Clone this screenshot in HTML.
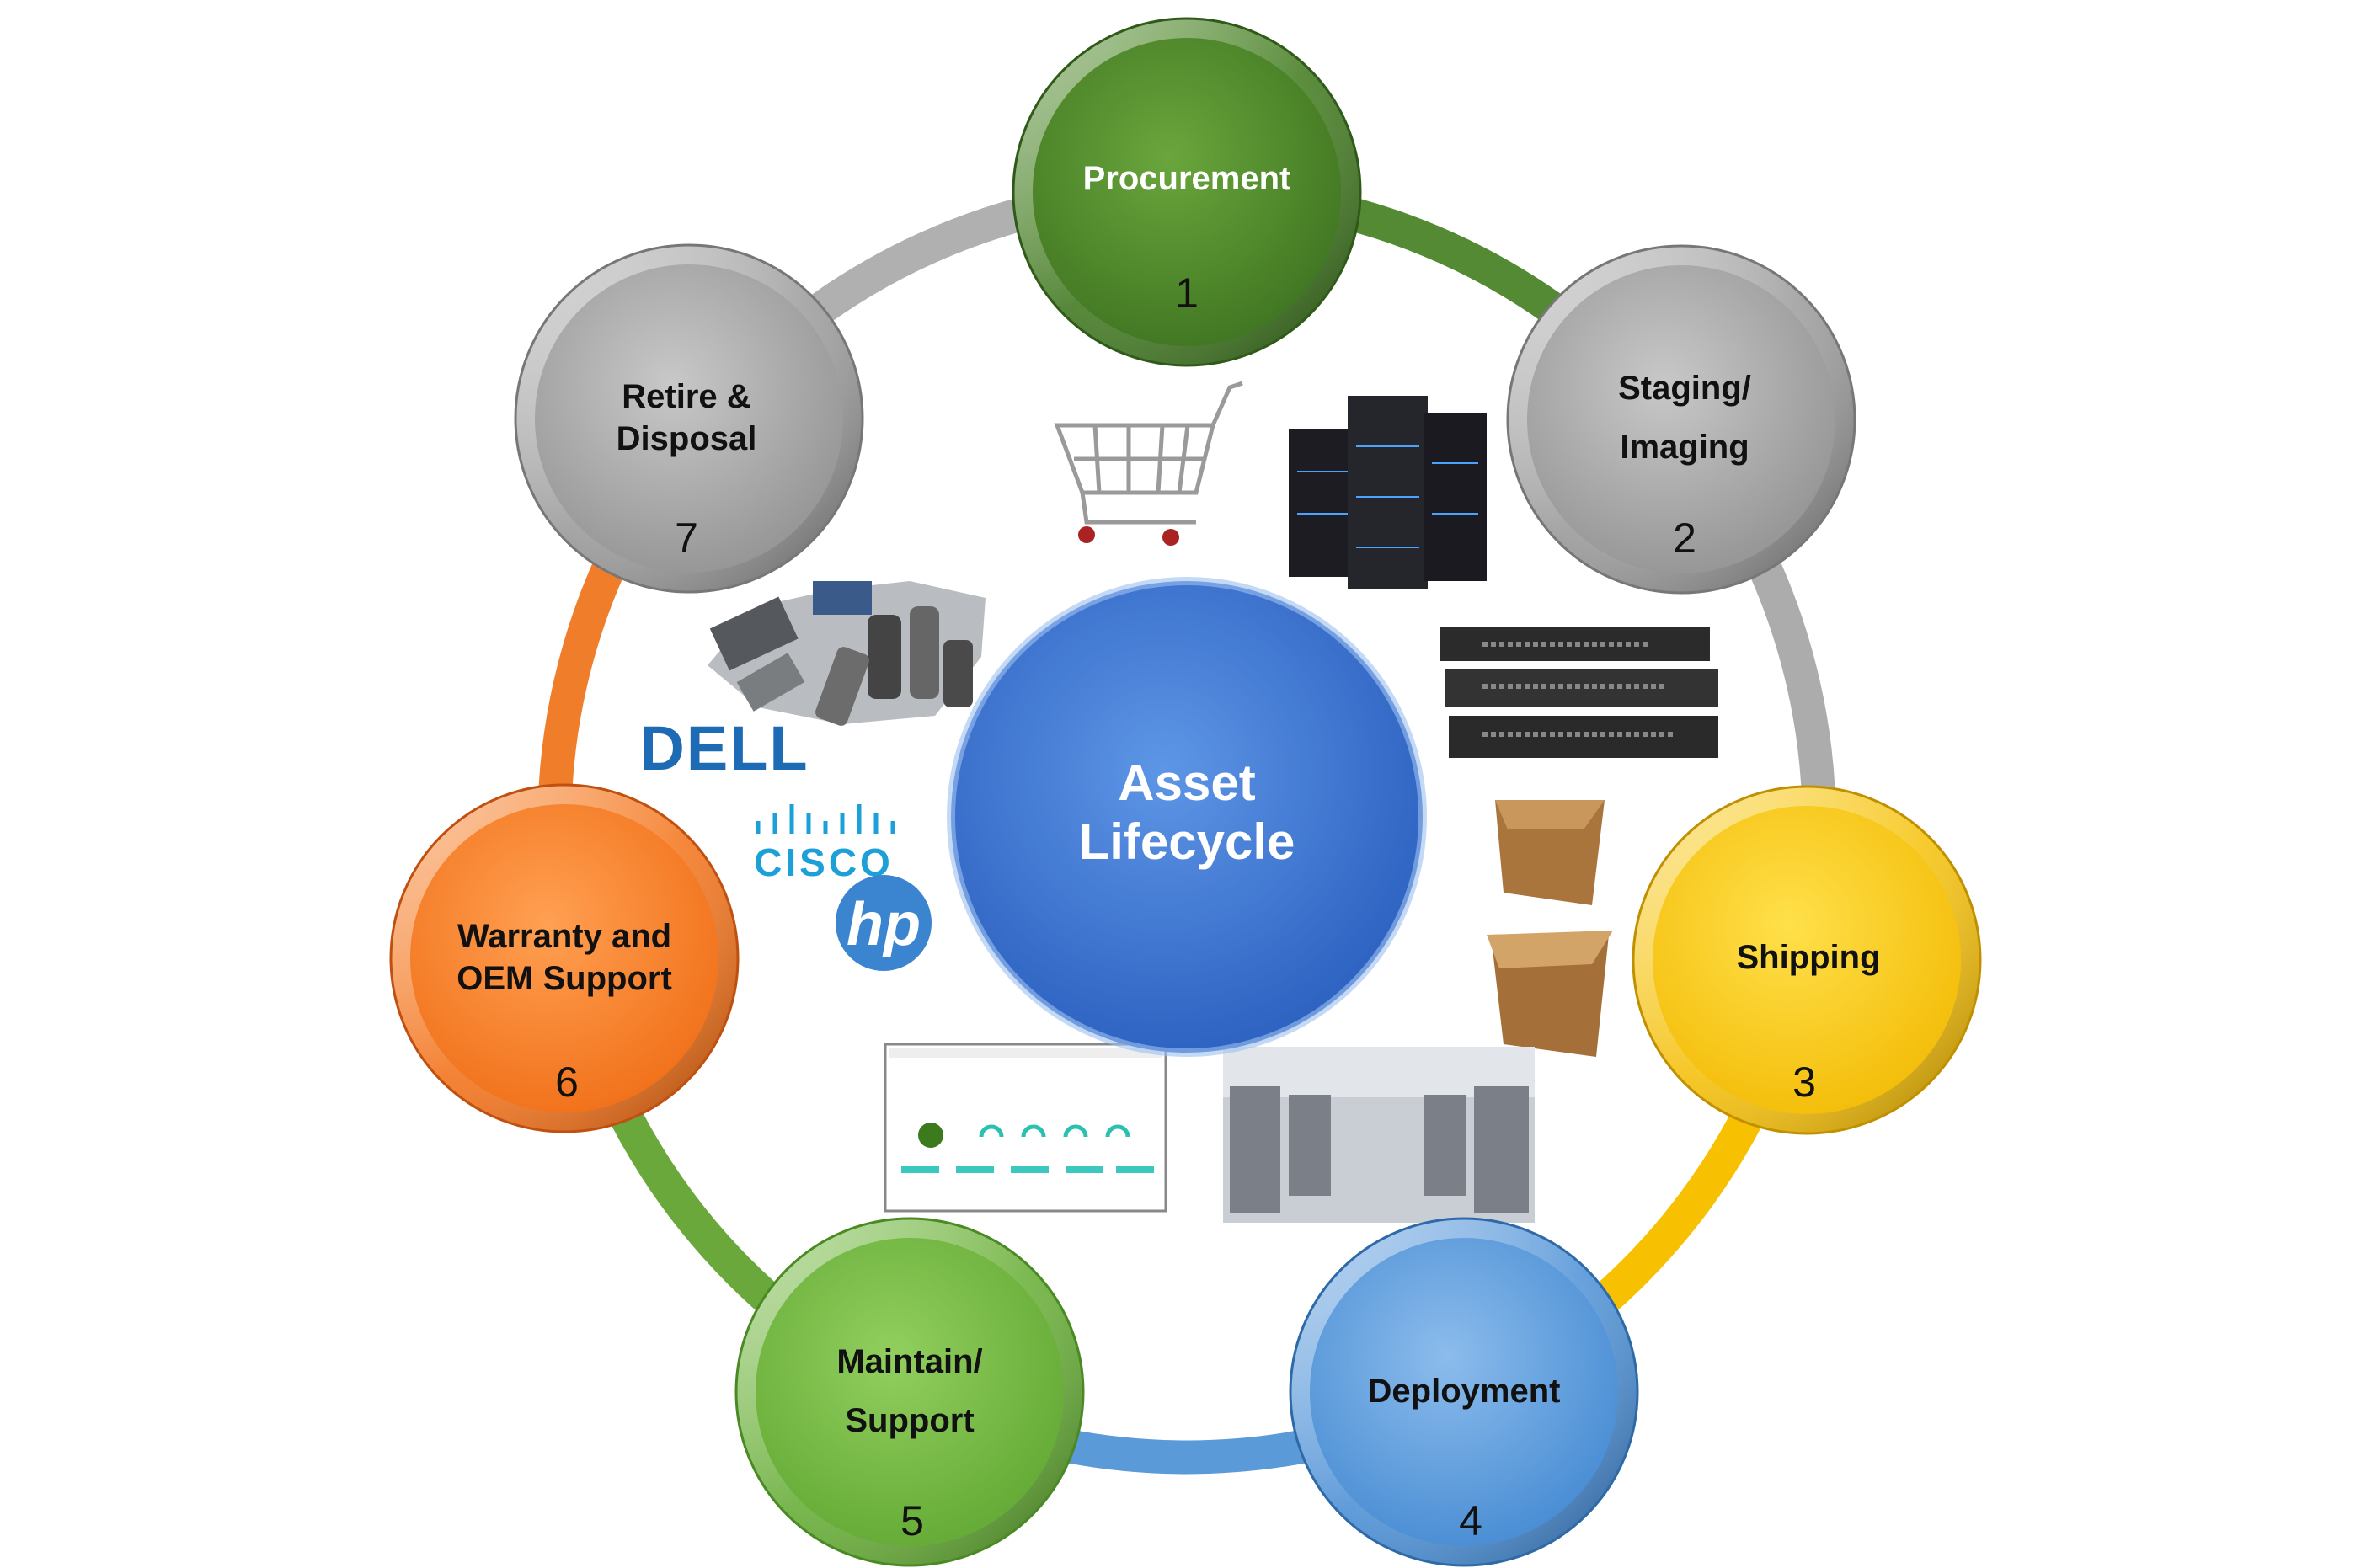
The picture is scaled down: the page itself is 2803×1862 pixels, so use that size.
<!DOCTYPE html>
<html><head><meta charset="utf-8"><style>
html,body{margin:0;padding:0;background:#fff;}
svg{display:block;}
text{font-family:"Liberation Sans","DejaVu Sans",sans-serif;}
</style></head><body>
<svg width="2803" height="1862" viewBox="0 0 2803 1862" xmlns="http://www.w3.org/2000/svg">
<defs>
<radialGradient id="gGreen" cx="45%" cy="40%" r="65%"><stop offset="0" stop-color="#6aa63c"/><stop offset="1" stop-color="#3a6f1e"/></radialGradient>
<radialGradient id="gGray" cx="45%" cy="40%" r="65%"><stop offset="0" stop-color="#c8c8c8"/><stop offset="1" stop-color="#8e8e8e"/></radialGradient>
<radialGradient id="gYellow" cx="45%" cy="40%" r="65%"><stop offset="0" stop-color="#ffe04a"/><stop offset="1" stop-color="#f2b800"/></radialGradient>
<radialGradient id="gBlue" cx="45%" cy="40%" r="65%"><stop offset="0" stop-color="#8cbcec"/><stop offset="1" stop-color="#3f86d0"/></radialGradient>
<radialGradient id="gLGreen" cx="45%" cy="40%" r="65%"><stop offset="0" stop-color="#92cf5e"/><stop offset="1" stop-color="#5ea530"/></radialGradient>
<radialGradient id="gOrange" cx="45%" cy="40%" r="65%"><stop offset="0" stop-color="#ffa052"/><stop offset="1" stop-color="#ef6a12"/></radialGradient>
<radialGradient id="gCenter" cx="45%" cy="40%" r="65%"><stop offset="0" stop-color="#5e96e6"/><stop offset="1" stop-color="#2a5fbf"/></radialGradient>
<linearGradient id="rim" x1="0" y1="0" x2="1" y2="1"><stop offset="0" stop-color="#fff" stop-opacity=".6"/><stop offset=".5" stop-color="#fff" stop-opacity=".1"/><stop offset="1" stop-color="#000" stop-opacity=".3"/></linearGradient>
</defs>
<g fill="none" stroke-width="40">
<path d="M1409 228 A751 751 0 0 1 1996 511" stroke="#548a33"/>
<path d="M1996 511 A751 751 0 0 1 2141 1146" stroke="#acacac"/>
<path d="M2141 1146 A751 751 0 0 1 1735 1656" stroke="#f7c000"/>
<path d="M1735 1656 A751 751 0 0 1 1083 1656" stroke="#5a9ad8"/>
<path d="M1083 1656 A751 751 0 0 1 677 1146" stroke="#6aa83c"/>
<path d="M677 1146 A751 751 0 0 1 822 511" stroke="#f07d2a"/>
<path d="M822 511 A751 751 0 0 1 1409 228" stroke="#b0b0b0"/>
</g>
<g>
<g stroke="#9a9a9a" stroke-width="5" fill="none">
<path d="M1255 505 L1440 505 L1420 585 L1285 585 Z"/>
<path d="M1440 505 L1460 460 L1475 455"/>
<path d="M1275 545 L1430 545 M1300 505 L1305 585 M1340 505 L1340 585 M1380 505 L1375 585 M1410 505 L1400 585"/>
<path d="M1285 585 L1290 620 L1420 620"/>
</g>
<circle cx="1290" cy="635" r="10" fill="#a22"/><circle cx="1390" cy="638" r="10" fill="#a22"/>
<rect x="1530" y="510" width="80" height="175" fill="#1c1c22"/>
<rect x="1600" y="470" width="95" height="230" fill="#25252c"/>
<rect x="1690" y="490" width="75" height="200" fill="#1a1a20"/>
<g stroke="#4aa3ff" stroke-width="2"><path d="M1540 560h60M1540 610h60M1610 530h75M1610 590h75M1610 650h75M1700 550h55M1700 610h55"/></g>
<rect x="1710" y="745" width="320" height="40" fill="#2b2b2b"/>
<rect x="1715" y="795" width="325" height="45" fill="#333"/>
<rect x="1720" y="850" width="320" height="50" fill="#2a2a2a"/>
<g stroke="#888" stroke-width="6" stroke-dasharray="6 4"><path d="M1760 765h200M1760 815h220M1760 872h230"/></g>
<path d="M1775 950 L1905 950 L1890 1075 L1785 1060 Z" fill="#a9753d"/>
<path d="M1775 950 L1905 950 L1880 985 L1790 985 Z" fill="#c9975b"/>
<path d="M1770 1110 L1910 1110 L1895 1255 L1785 1240 Z" fill="#a46f38"/>
<path d="M1765 1110 L1915 1105 L1890 1145 L1780 1150 Z" fill="#d3a468"/>
<rect x="1452" y="1243" width="370" height="209" fill="#c9ced4"/>
<rect x="1452" y="1243" width="370" height="60" fill="#e2e6ea"/>
<g fill="#7b8088"><rect x="1460" y="1290" width="60" height="150"/><rect x="1530" y="1300" width="50" height="120"/><rect x="1690" y="1300" width="50" height="120"/><rect x="1750" y="1290" width="65" height="150"/></g>
<rect x="1051" y="1240" width="333" height="198" fill="#fff" stroke="#888" stroke-width="3"/>
<rect x="1055" y="1244" width="325" height="12" fill="#eee"/>
<circle cx="1105" cy="1348" r="15" fill="#3c7a1e"/>
<g fill="none" stroke="#2cc0b0" stroke-width="5"><path d="M1165 1350a12 12 0 0 1 24 0M1215 1350a12 12 0 0 1 24 0M1265 1350a12 12 0 0 1 24 0M1315 1350a12 12 0 0 1 24 0"/></g>
<g fill="#3cc8c0"><rect x="1070" y="1385" width="45" height="8"/><rect x="1135" y="1385" width="45" height="8"/><rect x="1200" y="1385" width="45" height="8"/><rect x="1265" y="1385" width="45" height="8"/><rect x="1325" y="1385" width="45" height="8"/></g>
<!-- junk pile -->
<path d="M840 790 L900 720 L990 700 L1080 690 L1170 710 L1165 780 L1110 850 L1000 860 L900 840 Z" fill="#b9bcc0"/>
<rect x="850" y="725" width="90" height="55" fill="#55585c" transform="rotate(-25 895 752)"/>
<rect x="880" y="790" width="70" height="40" fill="#7a7d80" transform="rotate(-30 915 810)"/>
<rect x="965" y="690" width="70" height="40" fill="#3a5a8a"/>
<rect x="1030" y="730" width="40" height="100" fill="#444" rx="10"/>
<rect x="1080" y="720" width="35" height="110" fill="#666" rx="10"/>
<rect x="980" y="770" width="40" height="90" fill="#6c6c6c" rx="8" transform="rotate(20 1000 815)"/>
<rect x="1120" y="760" width="35" height="80" fill="#4a4a4a" rx="8"/>
<text x="860" y="914" font-size="74" font-weight="bold" fill="#1d6bb5" text-anchor="middle" letter-spacing="2">DELL</text>
<g stroke="#1ba0d7" stroke-width="5"><path d="M900 990v-15M920 990v-25M940 990v-35M960 990v-25M980 990v-15M1000 990v-25M1020 990v-35M1040 990v-25M1060 990v-15"/></g>
<text x="978" y="1040" font-size="46" font-weight="bold" fill="#1ba0d7" text-anchor="middle" letter-spacing="4">CISCO</text>
<circle cx="1049" cy="1096" r="57" fill="#3a84d0"/>
<text x="1049" y="1122" font-size="72" font-style="italic" font-weight="bold" fill="#fff" text-anchor="middle">hp</text>
</g>
<circle cx="1409" cy="970" r="280" fill="url(#gCenter)"/>
<circle cx="1409" cy="970" r="280" fill="none" stroke="#9cc0f0" stroke-width="10" opacity=".6"/>
<text x="1409" y="950" font-size="60" font-weight="bold" fill="#fff" text-anchor="middle">Asset</text>
<text x="1409" y="1020" font-size="60" font-weight="bold" fill="#fff" text-anchor="middle">Lifecycle</text>
<g>
<circle cx="1409" cy="228" r="207" fill="url(#gGreen)"/><circle cx="1409" cy="228" r="195" fill="none" stroke="url(#rim)" stroke-width="24"/><circle cx="1409" cy="228" r="206" fill="none" stroke="#2f5a18" stroke-width="3"/>
<text x="1409" y="225" font-size="40" font-weight="bold" fill="#fff" text-anchor="middle">Procurement</text>
<text x="1409" y="365" font-size="50" fill="#111" text-anchor="middle">1</text>

<circle cx="1996" cy="498" r="207" fill="url(#gGray)"/><circle cx="1996" cy="498" r="195" fill="none" stroke="url(#rim)" stroke-width="24"/><circle cx="1996" cy="498" r="206" fill="none" stroke="#777" stroke-width="3"/>
<text x="2000" y="474" font-size="40" font-weight="bold" fill="#111" text-anchor="middle">Staging/</text>
<text x="2000" y="544" font-size="40" font-weight="bold" fill="#111" text-anchor="middle">Imaging</text>
<text x="2000" y="656" font-size="50" fill="#111" text-anchor="middle">2</text>

<circle cx="2145" cy="1140" r="207" fill="url(#gYellow)"/><circle cx="2145" cy="1140" r="195" fill="none" stroke="url(#rim)" stroke-width="24"/><circle cx="2145" cy="1140" r="206" fill="none" stroke="#c09000" stroke-width="3"/>
<text x="2147" y="1150" font-size="40" font-weight="bold" fill="#111" text-anchor="middle">Shipping</text>
<text x="2142" y="1302" font-size="50" fill="#111" text-anchor="middle">3</text>

<circle cx="1738" cy="1653" r="207" fill="url(#gBlue)"/><circle cx="1738" cy="1653" r="195" fill="none" stroke="url(#rim)" stroke-width="24"/><circle cx="1738" cy="1653" r="206" fill="none" stroke="#2f6aa8" stroke-width="3"/>
<text x="1738" y="1665" font-size="40" font-weight="bold" fill="#111" text-anchor="middle">Deployment</text>
<text x="1746" y="1823" font-size="50" fill="#111" text-anchor="middle">4</text>

<circle cx="1080" cy="1653" r="207" fill="url(#gLGreen)"/><circle cx="1080" cy="1653" r="195" fill="none" stroke="url(#rim)" stroke-width="24"/><circle cx="1080" cy="1653" r="206" fill="none" stroke="#4a8a22" stroke-width="3"/>
<text x="1080" y="1630" font-size="40" font-weight="bold" fill="#111" text-anchor="middle">Maintain/</text>
<text x="1080" y="1700" font-size="40" font-weight="bold" fill="#111" text-anchor="middle">Support</text>
<text x="1083" y="1823" font-size="50" fill="#111" text-anchor="middle">5</text>

<circle cx="670" cy="1138" r="207" fill="url(#gOrange)"/><circle cx="670" cy="1138" r="195" fill="none" stroke="url(#rim)" stroke-width="24"/><circle cx="670" cy="1138" r="206" fill="none" stroke="#c05010" stroke-width="3"/>
<text x="670" y="1125" font-size="40" font-weight="bold" fill="#111" text-anchor="middle">Warranty and</text>
<text x="670" y="1175" font-size="40" font-weight="bold" fill="#111" text-anchor="middle">OEM Support</text>
<text x="673" y="1302" font-size="50" fill="#111" text-anchor="middle">6</text>

<circle cx="818" cy="497" r="207" fill="url(#gGray)"/><circle cx="818" cy="497" r="195" fill="none" stroke="url(#rim)" stroke-width="24"/><circle cx="818" cy="497" r="206" fill="none" stroke="#777" stroke-width="3"/>
<text x="815" y="484" font-size="40" font-weight="bold" fill="#111" text-anchor="middle">Retire &amp;</text>
<text x="815" y="534" font-size="40" font-weight="bold" fill="#111" text-anchor="middle">Disposal</text>
<text x="815" y="656" font-size="50" fill="#111" text-anchor="middle">7</text>
</g>
</svg>
</body></html>
